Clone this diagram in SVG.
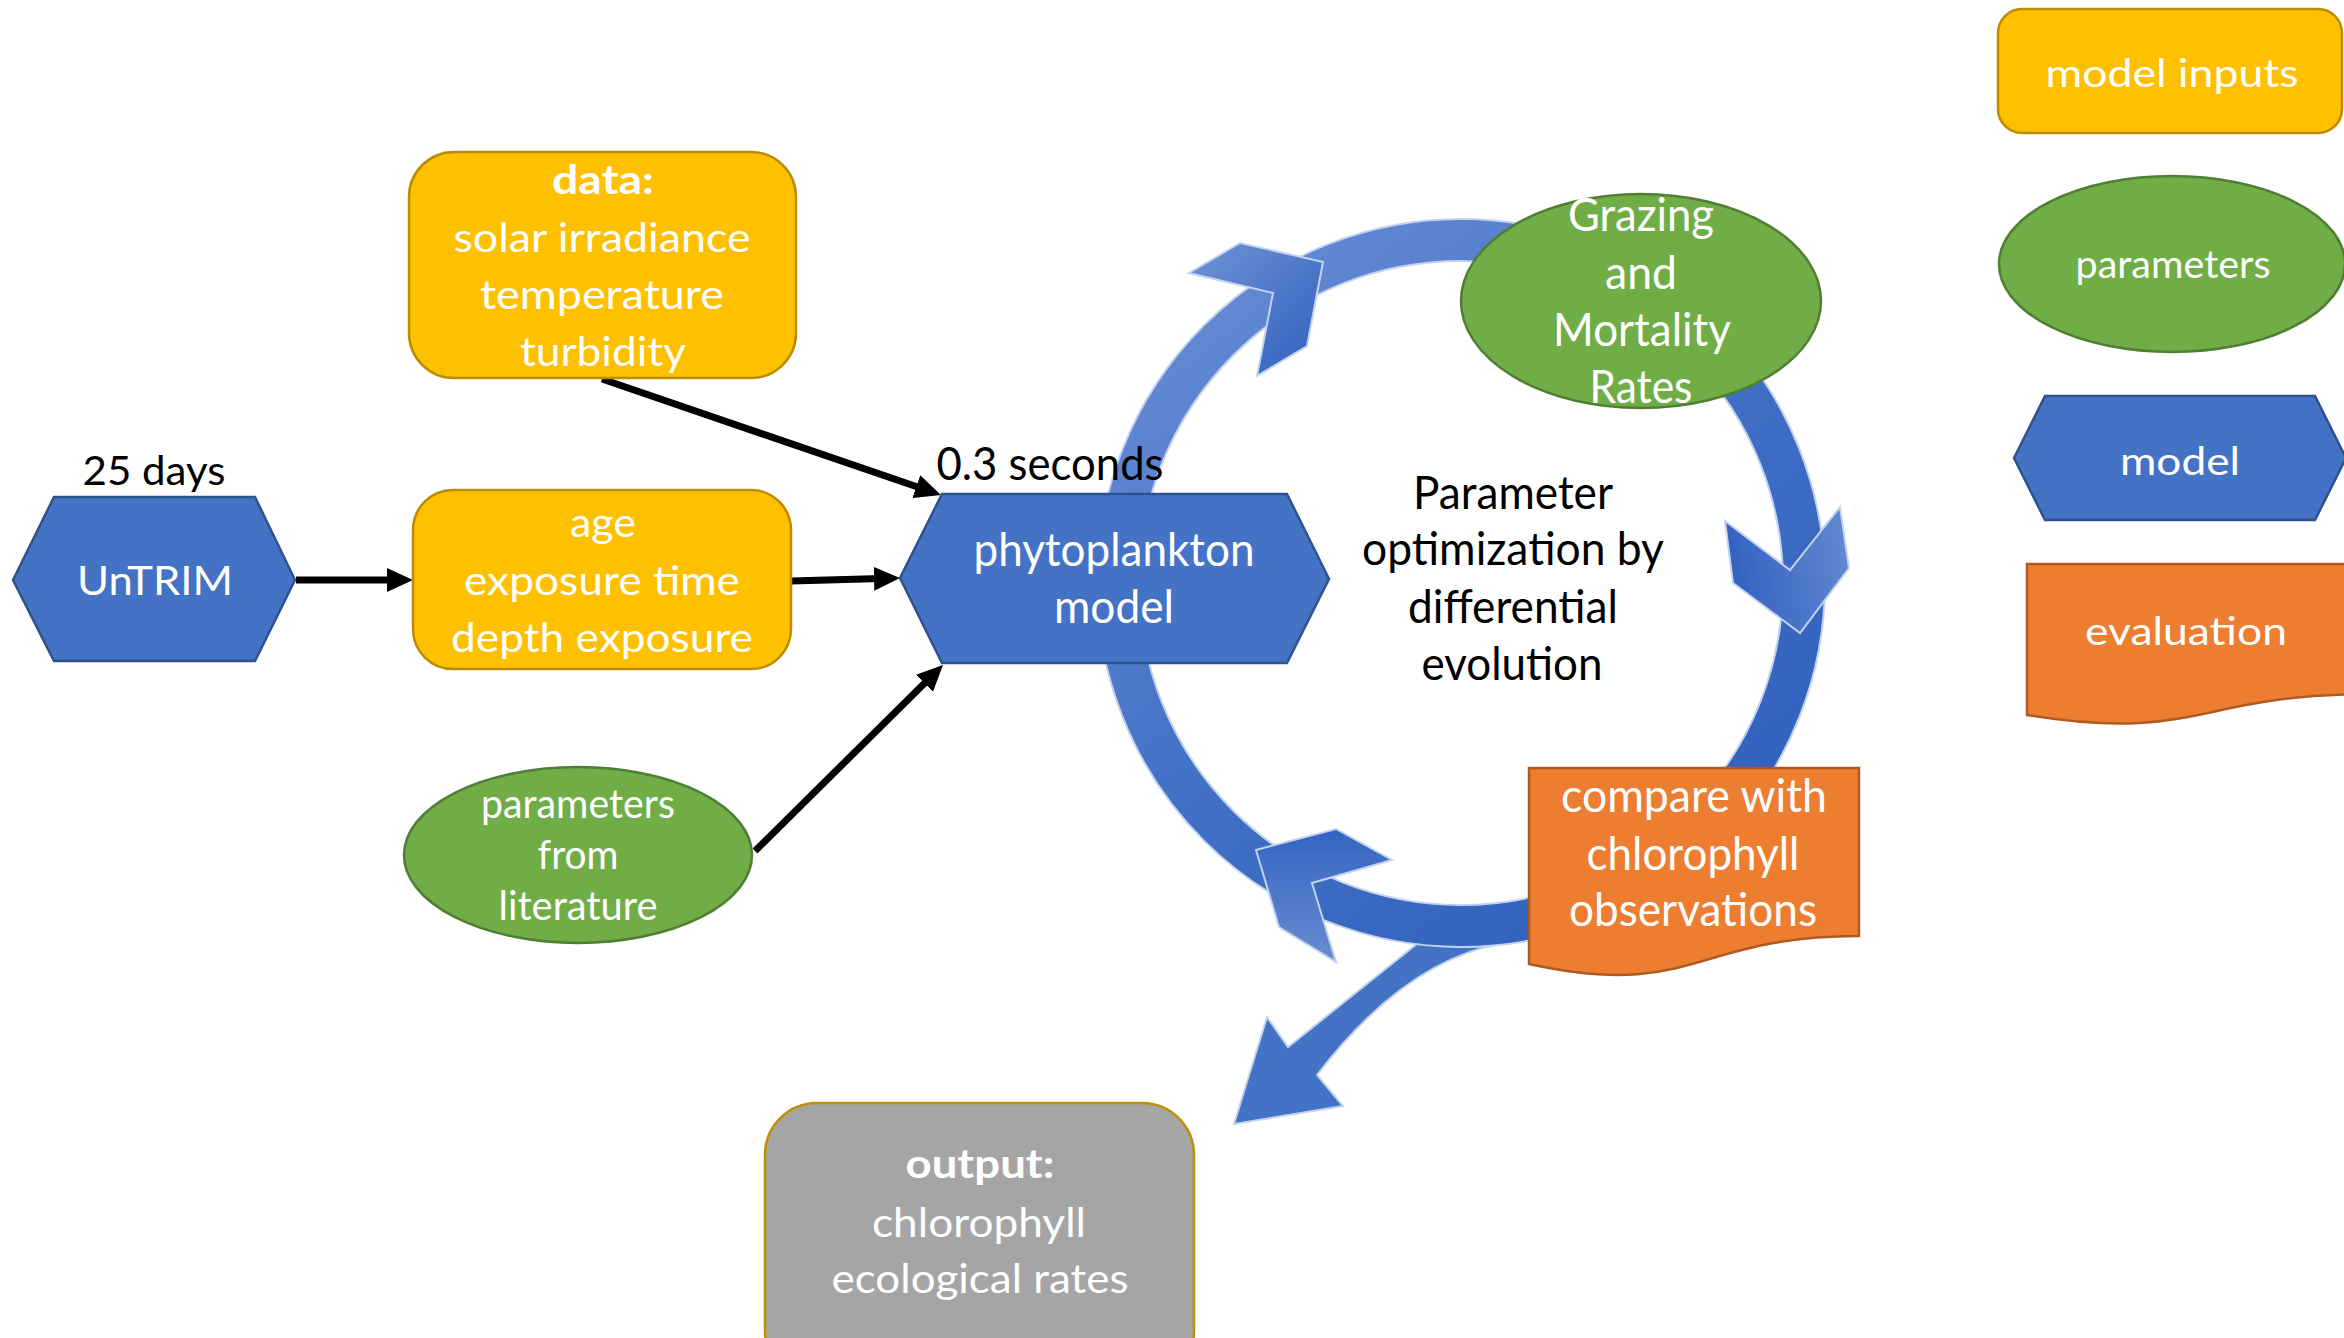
<svg xmlns="http://www.w3.org/2000/svg" width="2344" height="1338" viewBox="0 0 2344 1338">
<style>
text{font-family:Lato,"Open Sans","Liberation Sans",sans-serif;text-anchor:middle}
.lt{font-size:40px;fill:#fff}
.rt{font-size:46px;fill:#fff}
.bk{font-size:46px;fill:#000}
.lg{font-size:39px;fill:#fff}
.b{font-weight:bold}
.gold{fill:#FFC000;stroke:#BC8C00;stroke-width:2.5}
.green{fill:#70AD47;stroke:#507E32;stroke-width:2.5}
.blue{fill:#4472C4;stroke:#2F528F;stroke-width:2.5}
.orange{fill:#ED7D31;stroke:#AE5A21;stroke-width:2.5}
.gray{fill:#A5A5A5;stroke:#BF9000;stroke-width:2.5}
.arr{stroke:#000;stroke-width:7;fill:none;marker-end:url(#ah)}
.head{stroke:#C3D3EF;stroke-width:2;stroke-linejoin:miter}
</style>
<defs>
<marker id="ah" markerUnits="userSpaceOnUse" markerWidth="26" markerHeight="24" refX="16" refY="12" orient="auto">
<path d="M0,0 L26,12 L0,24 Z" fill="#000"/>
</marker>
<linearGradient id="ringG" gradientUnits="userSpaceOnUse" x1="1150" y1="250" x2="1720" y2="960">
<stop offset="0" stop-color="#6A8ED5"/>
<stop offset="0.5" stop-color="#4270C6"/>
<stop offset="1" stop-color="#2E5EBC"/>
</linearGradient>
<linearGradient id="h1G" x1="0" y1="0" x2="1" y2="1">
<stop offset="0" stop-color="#7093D6"/>
<stop offset="1" stop-color="#2F5FBE"/>
</linearGradient>
<linearGradient id="h2G" x1="0" y1="0.5" x2="1" y2="0.3">
<stop offset="0" stop-color="#3060BE"/>
<stop offset="1" stop-color="#6388D1"/>
</linearGradient>
<linearGradient id="h3G" x1="0.5" y1="0" x2="0.5" y2="1">
<stop offset="0" stop-color="#3464C0"/>
<stop offset="1" stop-color="#6A8DD4"/>
</linearGradient>
</defs>

<g id="connectors">
<line class="arr" x1="296" y1="580" x2="403" y2="580"/>
<line class="arr" x1="791" y1="581" x2="890" y2="578.3"/>
<line class="arr" x1="602" y1="379" x2="931.5" y2="491.8"/>
<line class="arr" x1="755" y1="851" x2="935.9" y2="672"/>
<path id="branch" d="M1418,943 L1288,1047 L1267,1017 L1234,1124 L1343,1106 L1317,1075 Q1405,960 1504,943 Z" fill="#4472C4" stroke="#C3D3EF" stroke-width="2"/>
<g id="cycle">
<circle cx="1461" cy="583" r="343" fill="none" stroke="#C3D3EF" stroke-width="44"/>
<circle cx="1461" cy="583" r="343" fill="none" stroke="url(#ringG)" stroke-width="40"/>
<polygon class="head" fill="url(#h1G)" points="1323,262 1307,346 1257,376 1273,293 1189,273 1240,243"/>
<polygon class="head" fill="url(#h2G)" points="1725,521 1790,570 1840,507 1849,568 1800,633 1733,583"/>
<polygon class="head" fill="url(#h3G)" points="1256,850 1336,829 1392,860 1312,883 1336,962 1279,927"/>
</g>
</g>

<g id="untrim">
<polygon class="blue" points="13,580 54,497 255,497 295,580 255,661 54,661"/>
<text class="lt" x="155" y="595" textLength="156" lengthAdjust="spacingAndGlyphs">UnTRIM</text>
</g>
<g id="label-25days">
<text class="lt" x="154" y="485" style="fill:#000" textLength="143" lengthAdjust="spacingAndGlyphs">25 days</text>
</g>

<g id="data">
<rect class="gold" x="409" y="152" width="387" height="226" rx="45"/>
<text class="lt b" x="603" y="194" textLength="102" lengthAdjust="spacingAndGlyphs">data:</text>
<text class="lt" x="602" y="252" textLength="297" lengthAdjust="spacingAndGlyphs">solar irradiance</text>
<text class="lt" x="602" y="309" textLength="244" lengthAdjust="spacingAndGlyphs">temperature</text>
<text class="lt" x="603" y="366" textLength="166" lengthAdjust="spacingAndGlyphs">turbidity</text>
</g>

<g id="age">
<rect class="gold" x="413" y="490" width="378" height="179" rx="40"/>
<text class="lt" x="603" y="537" textLength="66" lengthAdjust="spacingAndGlyphs">age</text>
<text class="lt" x="602" y="595" textLength="276" lengthAdjust="spacingAndGlyphs">exposure time</text>
<text class="lt" x="602" y="652" textLength="302" lengthAdjust="spacingAndGlyphs">depth exposure</text>
</g>

<g id="params-lit">
<ellipse class="green" cx="578" cy="855" rx="174" ry="88"/>
<text class="lt" x="578" y="818" textLength="194" lengthAdjust="spacingAndGlyphs">parameters</text>
<text class="lt" x="578" y="869" textLength="81" lengthAdjust="spacingAndGlyphs">from</text>
<text class="lt" x="578" y="920" textLength="159" lengthAdjust="spacingAndGlyphs">literature</text>
</g>

<g id="phyto">
<polygon class="blue" points="900,578 942,494 1287,494 1329,579 1287,663 942,663"/>
<text class="rt" x="1114" y="566" textLength="281" lengthAdjust="spacingAndGlyphs">phytoplankton</text>
<text class="rt" x="1114" y="623" textLength="120" lengthAdjust="spacingAndGlyphs">model</text>
</g>
<g id="label-seconds">
<text class="bk" x="1050" y="480" textLength="227" lengthAdjust="spacingAndGlyphs">0.3 seconds</text>
</g>

<g id="optim">
<text class="bk" x="1513" y="509" textLength="200" lengthAdjust="spacingAndGlyphs">Parameter</text>
<text class="bk" x="1513" y="565" textLength="302" lengthAdjust="spacingAndGlyphs">optimization by</text>
<text class="bk" x="1513" y="623" textLength="210" lengthAdjust="spacingAndGlyphs">differential</text>
<text class="bk" x="1512" y="680" textLength="181" lengthAdjust="spacingAndGlyphs">evolution</text>
</g>

<g id="grazing">
<ellipse class="green" cx="1641" cy="301" rx="180" ry="107"/>
<text class="rt" x="1641" y="231" textLength="146" lengthAdjust="spacingAndGlyphs">Grazing</text>
<text class="rt" x="1641" y="289" textLength="72" lengthAdjust="spacingAndGlyphs">and</text>
<text class="rt" x="1642" y="346" textLength="178" lengthAdjust="spacingAndGlyphs">Mortality</text>
<text class="rt" x="1641" y="403" textLength="103" lengthAdjust="spacingAndGlyphs">Rates</text>
</g>

<g id="compare">
<path class="orange" d="M1529,768 H1859 V936 C1694,936 1694,1000 1529,964 Z"/>
<text class="rt" x="1694" y="812" textLength="266" lengthAdjust="spacingAndGlyphs">compare with</text>
<text class="rt" x="1693" y="870" textLength="213" lengthAdjust="spacingAndGlyphs">chlorophyll</text>
<text class="rt" x="1693" y="926" textLength="248" lengthAdjust="spacingAndGlyphs">observations</text>
</g>

<g id="output">
<rect class="gray" x="765" y="1103" width="429" height="280" rx="52"/>
<text class="lt b" x="980" y="1178" textLength="149" lengthAdjust="spacingAndGlyphs">output:</text>
<text class="lt" x="979" y="1237" textLength="214" lengthAdjust="spacingAndGlyphs">chlorophyll</text>
<text class="lt" x="980" y="1293" textLength="297" lengthAdjust="spacingAndGlyphs">ecological rates</text>
</g>

<g id="legend-inputs">
<rect class="gold" x="1998" y="9" width="344" height="124" rx="24"/>
<text class="lg" x="2172" y="87" textLength="253" lengthAdjust="spacingAndGlyphs">model inputs</text>
</g>
<g id="legend-params">
<ellipse class="green" cx="2172" cy="264" rx="173" ry="88"/>
<text class="lg" x="2173" y="278" textLength="195" lengthAdjust="spacingAndGlyphs">parameters</text>
</g>
<g id="legend-model">
<polygon class="blue" points="2014,458 2045,396 2315,396 2346,458 2315,520 2045,520"/>
<text class="lg" x="2180" y="475" textLength="120" lengthAdjust="spacingAndGlyphs">model</text>
</g>
<g id="legend-eval">
<path class="orange" d="M2027,564 H2370 V694 C2198,694 2198,743 2027,715 Z"/>
<text class="lg" x="2186" y="645" textLength="202" lengthAdjust="spacingAndGlyphs">evaluation</text>
</g>
</svg>
